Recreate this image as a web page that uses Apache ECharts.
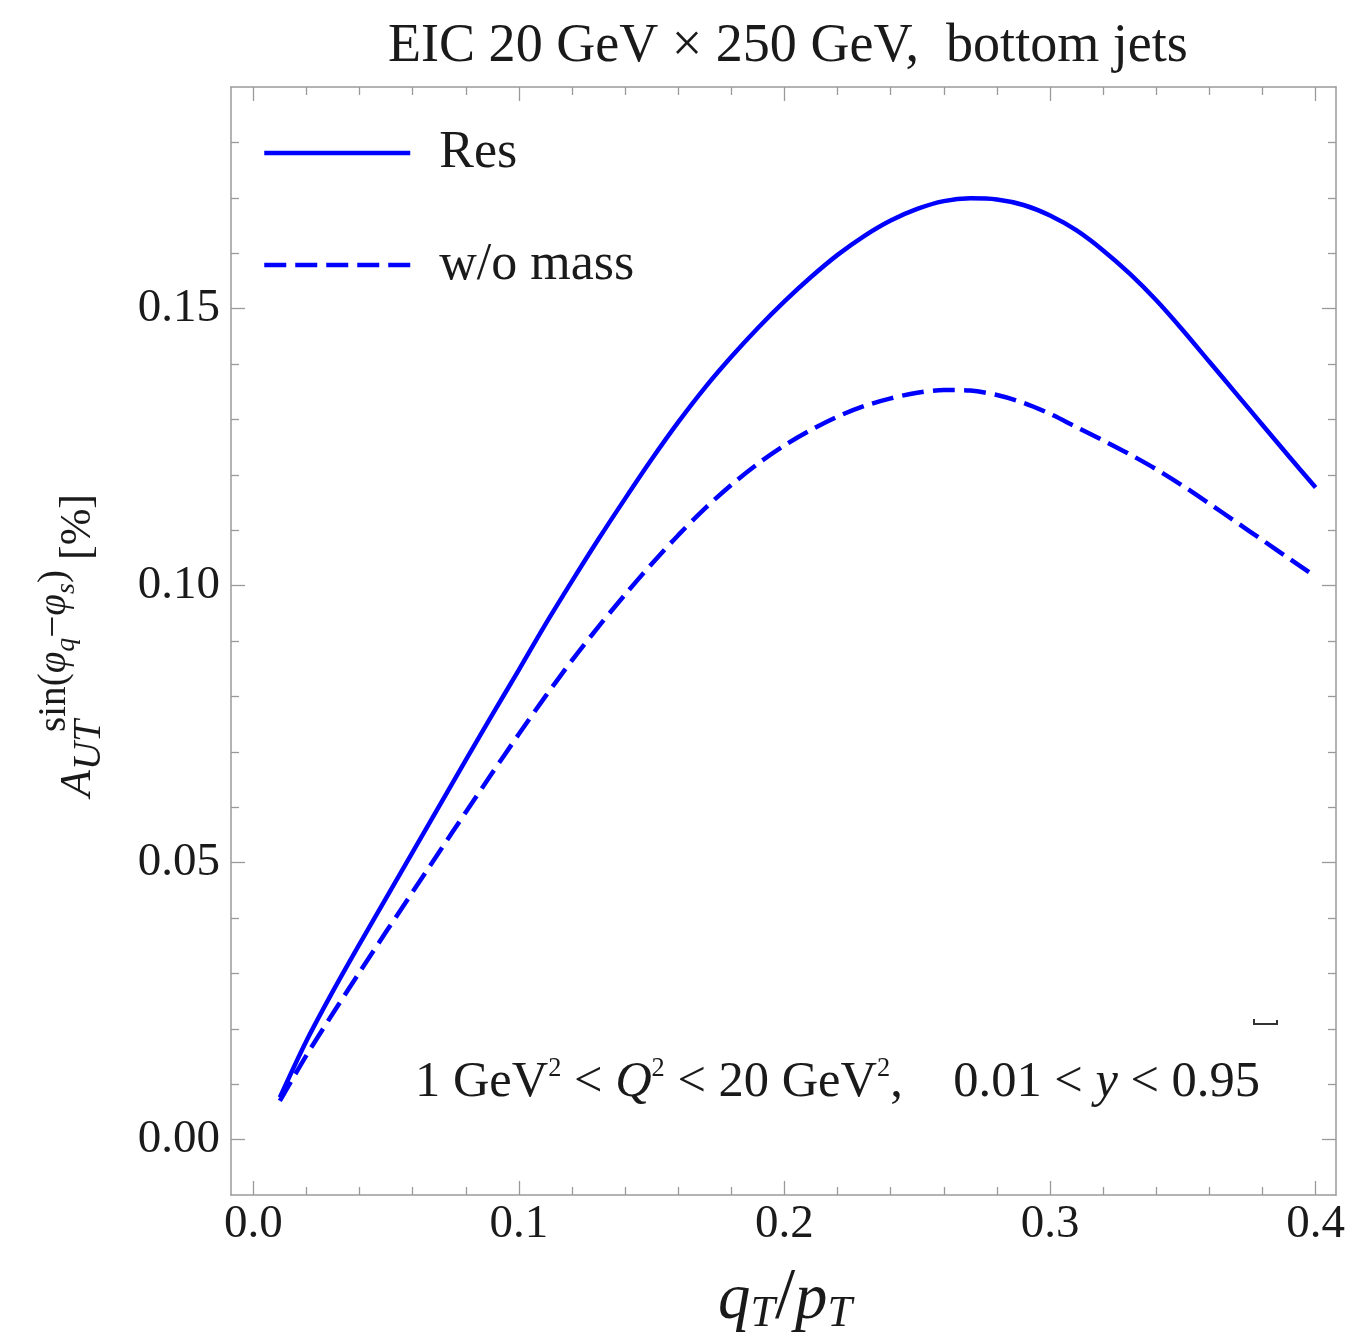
<!DOCTYPE html>
<html><head><meta charset="utf-8">
<script src="https://cdn.jsdelivr.net/npm/echarts@6/dist/echarts.min.js"></script>
<style>html,body{margin:0;padding:0;background:#fff}#c{width:1348px;height:1342px}</style>
</head><body><div id="c"></div>
<script>
// ---- data ----
const qT = [0.01,0.02,0.03,0.04,0.05,0.06,0.07,0.08,0.09,0.10,
            0.11,0.12,0.13,0.14,0.15,0.16,0.17,0.18,0.19,0.20,
            0.21,0.22,0.23,0.24,0.25,0.26,0.27,0.28,0.29,0.30,
            0.31,0.32,0.33,0.34,0.35,0.36,0.37,0.38,0.39,0.40];
const resVals = [0.0076,0.0178,0.0268,0.0353,0.0436,0.0519,0.0602,0.0685,0.0767,0.0848,
                 0.0930,0.1008,0.1084,0.1157,0.1228,0.1295,0.1357,0.1413,0.1465,0.1513,
                 0.1557,0.1597,0.1631,0.1659,0.1680,0.1694,0.1699,0.1697,0.1687,0.1668,
                 0.1641,0.1605,0.1563,0.1515,0.1461,0.1404,0.1347,0.1290,0.1233,0.1177];
const noMassVals = [0.0070,0.0152,0.0228,0.0302,0.0375,0.0447,0.0519,0.0591,0.0662,0.0732,
                    0.0800,0.0865,0.0926,0.0984,0.1039,0.1091,0.1139,0.1182,0.1220,0.1253,
                    0.1281,0.1305,0.1324,0.1338,0.1348,0.1353,0.1352,0.1344,0.1330,0.1310,
                    0.1286,0.1262,0.1237,0.1210,0.1180,0.1148,0.1115,0.1082,0.1049,0.1016];
const seriesNames = ['Res', 'w/o mass'];
const xMajor = [0, 0.1, 0.2, 0.3, 0.4];
const xMinor = [0.02,0.04,0.06,0.08,0.12,0.14,0.16,0.18,0.22,0.24,0.26,0.28,0.32,0.34,0.36,0.38];
const yMajor = [0, 0.05, 0.10, 0.15];
const yMinor = [0.01,0.02,0.03,0.04,0.06,0.07,0.08,0.09,0.11,0.12,0.13,0.14,0.16,0.17,0.18];
const titleText = 'EIC 20 GeV \u00d7 250 GeV,  bottom jets';

const XMIN = -0.00839, XMAX = 0.40764, YMIN = -0.01, YMAX = 0.19;
const FONT = '"Liberation Serif", "Times New Roman", serif';
const INK = '#1a1a1a', FRAME = '#9a9a9a', TICK = '#9a9a9a', BLUE = '#0000ff';

const cv = document.createElement('canvas').getContext('2d');
function tw(t, s, it) { cv.font = (it ? 'italic ' : '') + s + 'px ' + FONT; return cv.measureText(t).width; }
function row(pieces, x0, base, target) {
  const nat = pieces.reduce((a, p) => a + tw(p.t, p.s, p.it), 0);
  const k = target ? target / nat : 1;
  let x = x0; const out = [];
  for (const p of pieces) {
    const s = p.s * k, b = base + (p.dy || 0) * k;
    out.push({ type: 'text', x: x, y: b - 0.34 * s,
      style: { text: p.t, fontFamily: FONT, fontSize: s, fontStyle: p.it ? 'italic' : 'normal',
               fill: INK, align: 'left', verticalAlign: 'middle' } });
    x += tw(p.t, s, p.it);
  }
  return out;
}

function xAxisCfg(pos, vals, len, label, line) {
  return { type: 'value', position: pos, min: XMIN, max: XMAX,
    axisLine: { show: line, onZero: false, lineStyle: { color: FRAME, width: 1.5 } },
    axisTick: { show: true, inside: true, length: len, customValues: vals, lineStyle: { color: TICK, width: 1.3 } },
    axisLabel: { show: label, customValues: vals, formatter: v => v.toFixed(1), margin: 6,
                 fontFamily: FONT, fontSize: 47, color: INK },
    splitLine: { show: false }, minorTick: { show: false } };
}
function yAxisCfg(pos, vals, len, label, line) {
  return { type: 'value', position: pos, min: YMIN, max: YMAX,
    axisLine: { show: line, onZero: false, lineStyle: { color: FRAME, width: 1.5 } },
    axisTick: { show: true, inside: true, length: len, customValues: vals, lineStyle: { color: TICK, width: 1.3 } },
    axisLabel: { show: label, customValues: vals, formatter: v => v.toFixed(2), margin: 11,
                 fontFamily: FONT, fontSize: 47, color: INK },
    splitLine: { show: false }, minorTick: { show: false } };
}

const chart = echarts.init(document.getElementById('c'), null, { renderer: 'canvas' });

const yNameChildren = [].concat(
  row([{ t: 'A', s: 44, it: 1 }], 0, 0),
  row([{ t: 'UT', s: 36, it: 1 }], 27, 10, 50),
  row([{ t: 'sin(', s: 28 }, { t: '\u03c6', s: 28, it: 1 }, { t: 'q', s: 20, it: 1, dy: 6 },
       { t: '\u2212', s: 28 }, { t: '\u03c6', s: 28, it: 1 }, { t: 's', s: 20, it: 1, dy: 6 },
       { t: ')', s: 28 }], 65, -25, 162),
  row([{ t: '[%]', s: 44 }], 237, 0)
);

const option = {
  backgroundColor: '#fff',
  animation: false,
  grid: { left: 231, right: 11, top: 87, bottom: 147, containLabel: false },
  xAxis: [
    xAxisCfg('bottom', xMajor, 14, true, true),
    xAxisCfg('bottom', xMinor, 8, false, false),
    xAxisCfg('top', xMajor, 14, false, true),
    xAxisCfg('top', xMinor, 8, false, false)
  ],
  yAxis: [
    yAxisCfg('left', yMajor, 14, true, true),
    yAxisCfg('left', yMinor, 8, false, false),
    yAxisCfg('right', yMajor, 14, false, true),
    yAxisCfg('right', yMinor, 8, false, false)
  ],
  legend: {
    data: seriesNames, orient: 'vertical', left: 262, top: 127, padding: 0,
    itemWidth: 146, itemHeight: 20, itemGap: 60, selectedMode: false,
    itemStyle: { color: 'rgba(0,0,0,0)', borderColor: 'rgba(0,0,0,0)', borderWidth: 0 },
    lineStyle: { width: 4.5 },
    textStyle: { fontFamily: FONT, fontSize: 52, color: INK, padding: [0, 0, 0, 24] }
  },
  series: [
    { name: seriesNames[0], type: 'line', xAxisIndex: 0, yAxisIndex: 0, symbol: 'none', smooth: 0.3,
      data: qT.map((x, i) => [x, resVals[i]]),
      lineStyle: { color: BLUE, width: 4.5 }, itemStyle: { color: BLUE } },
    { name: seriesNames[1], type: 'line', xAxisIndex: 0, yAxisIndex: 0, symbol: 'none', smooth: 0.3,
      data: qT.map((x, i) => [x, noMassVals[i]]),
      lineStyle: { color: BLUE, width: 4.5, type: [22, 9], cap: 'butt' }, itemStyle: { color: BLUE } }
  ],
  graphic: { elements: [
    { type: 'group', children: row([{ t: titleText, s: 46 }], 388, 65, 800) },
    { type: 'group', children: row([
        { t: '1 GeV', s: 46 }, { t: '2', s: 24, dy: -20 }, { t: ' < ', s: 46 }, { t: 'Q', s: 46, it: 1 },
        { t: '2', s: 24, dy: -20 }, { t: ' < 20 GeV', s: 46 }, { t: '2', s: 24, dy: -20 },
        { t: ',    0.01 < ', s: 46 }, { t: 'y', s: 46, it: 1 }, { t: ' < 0.95', s: 46 }], 415, 1100, 845) },
    { type: 'group', children: row([
        { t: 'q', s: 50, it: 1 }, { t: 'T', s: 34, it: 1, dy: 5 }, { t: '/', s: 56 },
        { t: 'p', s: 50, it: 1 }, { t: 'T', s: 34, it: 1, dy: 5 }], 718, 1323, 134) },
    { type: 'group', x: 93, y: 797, rotation: Math.PI / 2, children: yNameChildren },
    { type: 'polyline', shape: { points: [[1254, 1019], [1254, 1024], [1277, 1024], [1277, 1020]] },
      style: { stroke: '#333', lineWidth: 2, fill: null } }
  ] }
};
chart.setOption(option);
</script></body></html>
